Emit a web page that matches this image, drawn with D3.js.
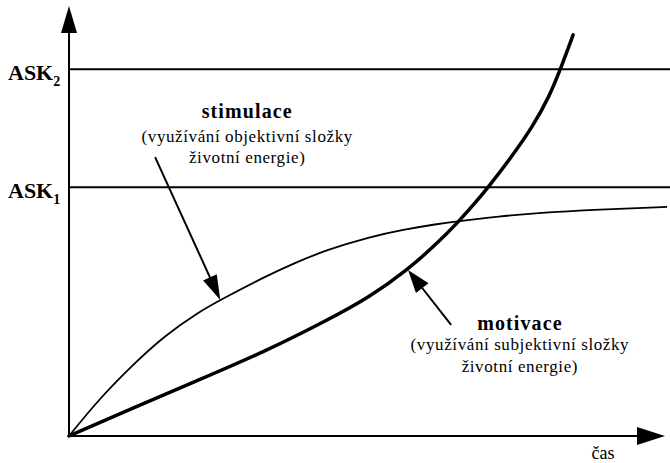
<!DOCTYPE html>
<html>
<head>
<meta charset="utf-8">
<script src="https://cdn.jsdelivr.net/npm/d3@7"></script>
<style>
  html, body { margin: 0; padding: 0; background: #fff; }
  svg { display: block; }
  text { font-family: "Liberation Serif", "Times New Roman", serif; fill: #000; }
</style>
</head>
<body>
<script>
// ---- data (time units 0..100, level units 0..100) ----
const timeStimulace = [0, 4.9, 10.5, 16.0, 21.6, 25.3, 33.0, 37.5, 43.1, 50.3, 55.9, 61.5, 65.1, 72.1, 77.6, 88.8, 100];
const stimulace     = [0, 8.4, 16.4, 23.4, 28.8, 31.7, 37.3, 40.2, 43.4, 46.4, 48.1, 49.4, 50.1, 51.2, 51.9, 52.8, 53.4];

const timeMotivace  = [0, 10.5, 21.6, 32.8, 43.1, 50.3, 56.5, 61.5, 65.1, 68.2, 70.1, 73.7, 77.6, 80.4, 82.1, 84.3];
const motivace      = [0, 6.4, 13.0, 19.7, 26.9, 32.4, 38.6, 44.8, 49.9, 54.8, 58.0, 64.5, 72.2, 79.4, 85.2, 93.5];

const askNames  = ["ASK", "ASK"];
const askSubs   = ["2", "1"];
const askLevels = [85.5, 58.0];

const stimulaceLines = ["stimulace", "(využívání objektivní složky", "životní energie)"];
const motivaceLines  = ["motivace", "(využívání subjektivní složky", "životní energie)"];
const axisXLabel = "čas";

// ---- layout ----
const W = 670, H = 463;
const x = d3.scaleLinear().domain([0, 100]).range([69, 667]);
const y = d3.scaleLinear().domain([0, 100]).range([436, 7]);

const svg = d3.select("body").append("svg").attr("width", W).attr("height", H);

function arrowHead(g, x1, y1, x2, y2, len, half) {
  const dx = x2 - x1, dy = y2 - y1, d = Math.hypot(dx, dy);
  const ux = dx / d, uy = dy / d;
  const bx = x2 - ux * len, by = y2 - uy * len;
  g.append("line").attr("x1", x1).attr("y1", y1).attr("x2", bx + ux * 2).attr("y2", by + uy * 2)
    .attr("stroke", "#000").attr("stroke-width", 2);
  g.append("polygon")
    .attr("points", [[x2, y2], [bx - uy * half, by + ux * half], [bx + uy * half, by - ux * half]].map(p => p.join(",")).join(" "))
    .attr("fill", "#000");
}

// ASK reference lines
const ask = svg.append("g");
askLevels.forEach((v, i) => {
  ask.append("line").attr("x1", x(0)).attr("x2", W).attr("y1", y(v)).attr("y2", y(v))
    .attr("stroke", "#000").attr("stroke-width", 2);
  const t = ask.append("text").attr("x", 8).attr("y", y(v) + 11)
    .attr("font-size", 22).attr("font-weight", "bold");
  t.append("tspan").text(askNames[i]);
  t.append("tspan").attr("font-size", 14).attr("dy", 6).text(askSubs[i]);
});

// axes with arrows
const axes = svg.append("g");
arrowHead(axes, x(0), y(0) + 1, x(0), 6, 27, 8);
arrowHead(axes, x(0) - 1, y(0), 665, y(0), 28, 9);

// curves
const lineS = d3.line().x((d, i) => x(timeStimulace[i])).y(d => y(d)).curve(d3.curveBasis);
const lineM = d3.line().x((d, i) => x(timeMotivace[i])).y(d => y(d)).curve(d3.curveBasis);

svg.append("path").attr("d", lineS(stimulace)).attr("fill", "none")
  .attr("stroke", "#000").attr("stroke-width", 1.8);
svg.append("path").attr("d", lineM(motivace)).attr("fill", "none")
  .attr("stroke", "#000").attr("stroke-width", 3.5).attr("stroke-linecap", "round");

// annotation arrows
const ann = svg.append("g");
arrowHead(ann, x(14.4), y(65.0), x(timeStimulace[5]), y(stimulace[5]), 25, 7.5);
arrowHead(ann, x(63.9), y(25.9), x(56.7), y(38.7), 23, 8);

// annotation texts
function block(cx, baselines, lines) {
  lines.forEach((s, i) => {
    const t = svg.append("text").attr("x", x(cx)).attr("y", y(baselines[i]))
      .attr("text-anchor", "middle").text(s);
    if (i === 0) t.attr("font-size", 20).attr("font-weight", "bold").attr("letter-spacing", 1.1);
    else t.attr("font-size", 17).attr("letter-spacing", 0.6);
  });
}
block(29.8, [74.1, 68.5, 63.6], stimulaceLines);
block(75.4, [24.7, 20.0, 14.9], motivaceLines);

svg.append("text").attr("x", x(89.3)).attr("y", 459).attr("text-anchor", "middle")
  .attr("font-size", 18).text(axisXLabel);
</script>
</body>
</html>
